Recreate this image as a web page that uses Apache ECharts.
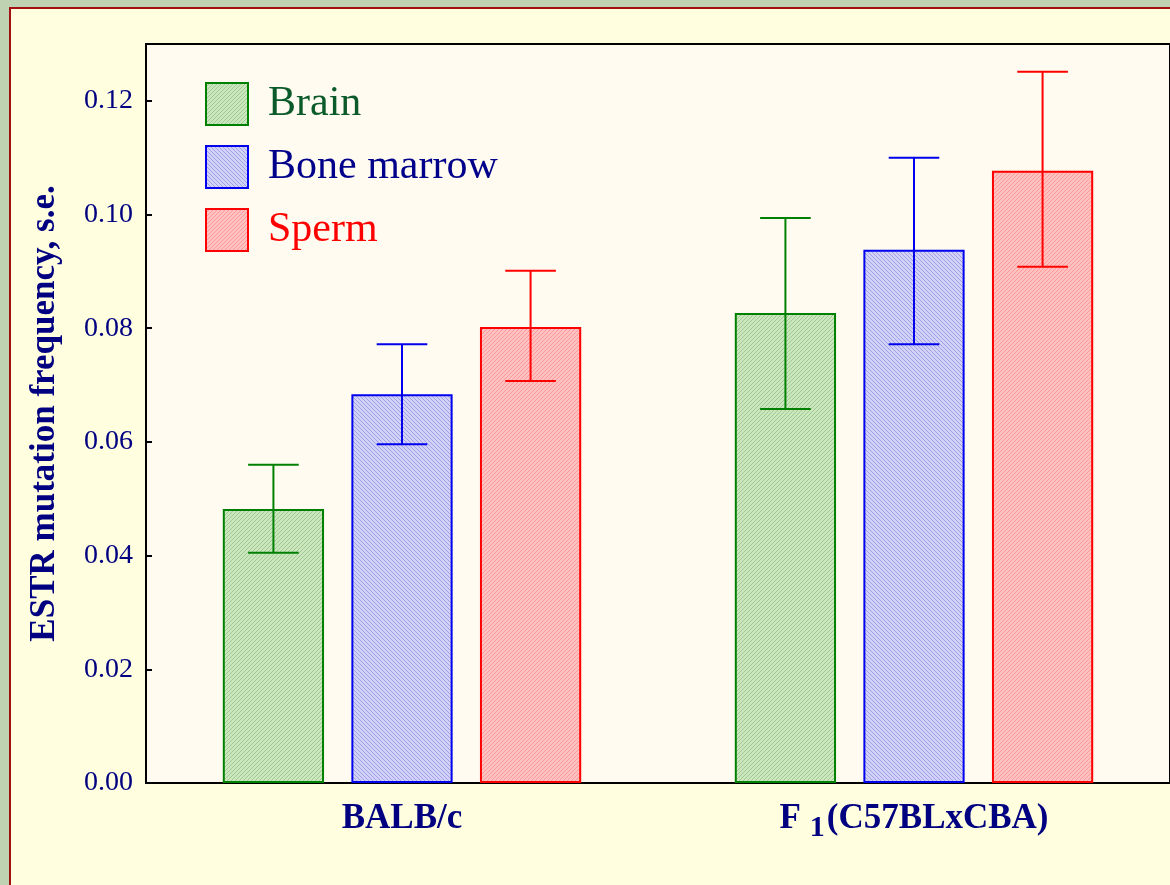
<!DOCTYPE html>
<html>
<head>
<meta charset="utf-8">
<style>
html, body { margin:0; padding:0; background:#bfd2b2; }
#chart { width:1170px; height:885px; }
</style>
<script src="https://cdn.jsdelivr.net/npm/echarts@6/dist/echarts.min.js"></script>
</head>
<body>
<div id="chart"></div>
<script>
// data
var strains = ['BALB/c', 'F1(C57BLxCBA)'];
var tissues = ['Brain', 'Bone marrow', 'Sperm'];
var brainVals = [0.0482, 0.0827];
var boneVals = [0.0684, 0.0938];
var spermVals = [0.0802, 0.1077];
var brainErr = [[0.0405, 0.0560], [0.0658, 0.0994]];
var boneErr = [[0.0596, 0.0772], [0.0772, 0.1100]];
var spermErr = [[0.0707, 0.0901], [0.0908, 0.1251]];

var lineCols = ['#008000', '#0000ee', '#ff0000'];
var textCols = ['#0b5a2a', '#00008b', '#ff0000'];

// hatch tiles
function hatch(base, line, dir) {
	var c = document.createElement('canvas');
	c.width = 4; c.height = 4;
	var g = c.getContext('2d');
	g.fillStyle = base;
	g.fillRect(0, 0, 4, 4);
	g.strokeStyle = line;
	g.lineWidth = 1;
	g.beginPath();
	if (dir > 0) {
		g.moveTo(-1, 5); g.lineTo(5, -1);
		g.moveTo(-3, 3); g.lineTo(3, -3);
		g.moveTo(1, 7); g.lineTo(7, 1);
	} else {
		g.moveTo(-1, -1); g.lineTo(5, 5);
		g.moveTo(-3, 1); g.lineTo(3, 7);
		g.moveTo(1, -3); g.lineTo(7, 3);
	}
	g.stroke();
	return { image: c, repeat: 'repeat' };
}
var fills = [
	hatch('#cce6bf', '#9fca8e', 1),
	hatch('#d2d2f6', '#a0a0ea', -1),
	hatch('#ffc2c2', '#ff9797', 1)
];

var vals = [brainVals, boneVals, spermVals];
var errs = [brainErr, boneErr, spermErr];

var series = [];
tissues.forEach(function(t, k) {
	series.push({
		name: t,
		type: 'bar',
		data: vals[k],
		barCategoryGap: '30%',
		barGap: '27%',
		itemStyle: { color: fills[k], borderColor: lineCols[k], borderWidth: 2 },
		emphasis: { disabled: true }
	});
});
tissues.forEach(function(t, k) {
	var d = errs[k].map(function(e, i) { return [i, e[0], e[1]]; });
	series.push({
		type: 'custom',
		z: 5,
		data: d,
		renderItem: function(params, api) {
			var i = api.value(0);
			var lo = api.coord([i, api.value(1)]);
			var hi = api.coord([i, api.value(2)]);
			var band = api.size([1, 0])[0];
			var bw = band * 0.7 / (3 + 2 * 0.27);
			var x = lo[0] + (k - 1) * bw * 1.27;
			var cap = bw * 0.25;
			var st = { stroke: lineCols[k], lineWidth: 2 };
			return { type: 'group', children: [
				{ type: 'line', shape: { x1: x, y1: hi[1], x2: x, y2: lo[1] }, style: st },
				{ type: 'line', shape: { x1: x - cap, y1: hi[1], x2: x + cap, y2: hi[1] }, style: st },
				{ type: 'line', shape: { x1: x - cap, y1: lo[1], x2: x + cap, y2: lo[1] }, style: st }
			]};
		}
	});
});

var myChart = echarts.init(document.getElementById('chart'));
var option = {
	backgroundColor: '#bfd2b2',
	animation: false,
	graphic: [
		{ type: 'rect', z: -10, shape: { x: 10, y: 8, width: 1180, height: 900 },
			style: { fill: '#ffffe0', stroke: '#a01010', lineWidth: 2 } }
	],
	grid: {
		left: 146, top: 44, right: -10, bottom: 102,
		show: true, backgroundColor: '#fffbf0', borderColor: '#000', borderWidth: 2
	},
	legend: {
		orient: 'vertical',
		left: 200, top: 77,
		itemWidth: 42, itemHeight: 42, itemGap: 19,
		icon: 'rect',
		selectedMode: false,
		textStyle: { fontFamily: 'Liberation Serif', fontSize: 42, padding: [0, 0, 0, 15] },
		data: tissues.map(function(t, k) {
			return { name: t, textStyle: { color: textCols[k] } };
		})
	},
	xAxis: {
		type: 'category',
		data: strains,
		axisLine: { lineStyle: { color: '#000', width: 2 } },
		axisTick: { show: false },
		axisLabel: {
			interval: 0,
			hideOverlap: false,
			margin: 18,
			verticalAlign: 'top',
			fontFamily: 'Liberation Serif', fontWeight: 'bold', fontSize: 35, color: '#000080',
			formatter: function(v) {
				if (v.indexOf('F1') === 0) return '{b|F}{s|1}{b|' + v.slice(2) + '}';
				return '{b|' + v + '}';
			},
			rich: {
				b: { fontFamily: 'Liberation Serif', fontWeight: 'bold', fontSize: 35, lineHeight: 40, verticalAlign: 'top', color: '#000080' },
				s: { fontFamily: 'Liberation Serif', fontWeight: 'bold', fontSize: 30, lineHeight: 30, verticalAlign: 'top', color: '#000080', padding: [12, 2, 0, 9] }
			}
		}
	},
	yAxis: {
		type: 'value',
		min: 0, max: 0.13, interval: 0.02,
		name: 'ESTR mutation frequency, s.e.',
		nameLocation: 'middle',
		nameGap: 84,
		nameTextStyle: { fontFamily: 'Liberation Serif', fontWeight: 'bold', fontSize: 35, color: '#000080' },
		splitLine: { show: false },
		axisLine: { show: true, lineStyle: { color: '#000', width: 2 } },
		axisTick: { show: true, inside: true, length: 6, lineStyle: { color: '#000', width: 2 } },
		axisLabel: {
			margin: 13, showMaxLabel: false,
			fontFamily: 'Liberation Serif', fontSize: 28, color: '#000080',
			formatter: function(v) { return v.toFixed(2); }
		}
	},
	series: series
};
myChart.setOption(option);
</script>
</body>
</html>
